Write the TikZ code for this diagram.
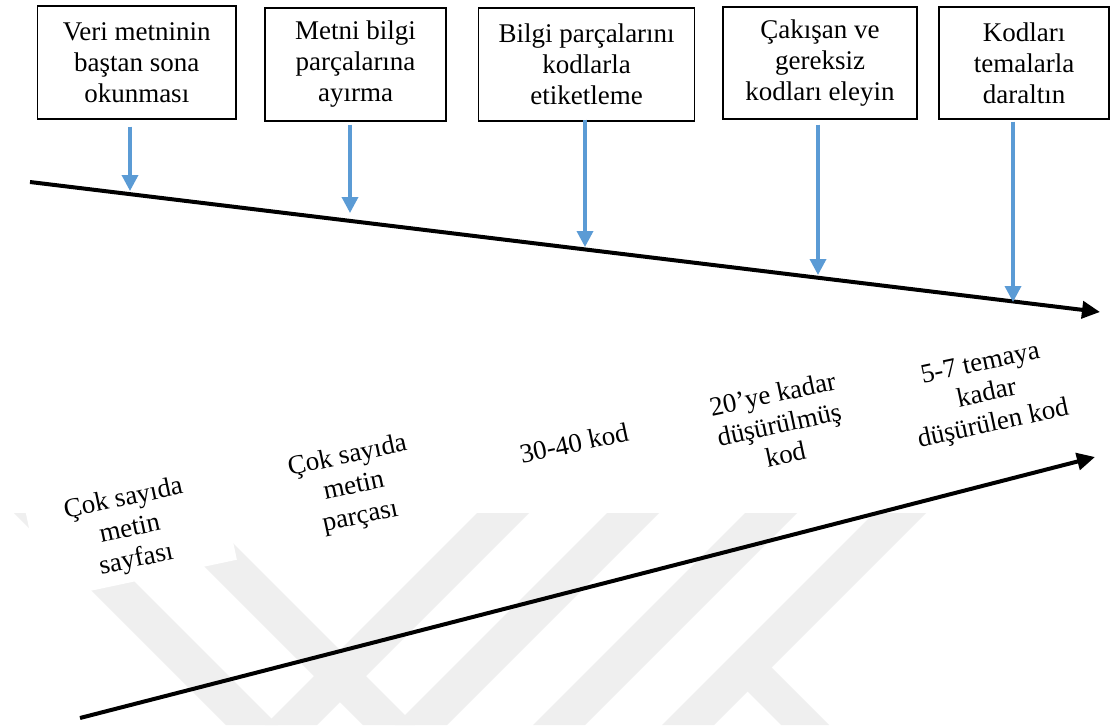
\documentclass[tikz,border=0pt]{standalone}
\usepackage{fontspec}
\setmainfont{Liberation Serif}
\usetikzlibrary{arrows.meta,calc}

\definecolor{stepblue}{HTML}{5B9BD5}
\definecolor{markgray}{HTML}{EFEFEF}

\begin{document}
\begin{tikzpicture}[x=1pt,y=-1pt,
  every node/.style={font=\fontsize{27}{31}\selectfont},
  stagebox/.style={draw=black, line width=1.3pt, align=center, inner sep=0pt},
  stagelabel/.style={align=center, fill=white, rotate=12, inner xsep=38pt, inner ysep=8pt},
  flowline/.style={line width=4pt, -{Triangle[length=18pt,width=17pt]}},
  droparrow/.style={draw=stepblue, line width=3.5pt, -{Triangle[length=16pt,width=16pt]}, color=stepblue},
]
% canvas
\fill[white] (0,0) rectangle (1110,725);
\useasboundingbox (0,0) rectangle (1110,725);

% faint background mark
\begin{scope}
  \clip (0,0) rectangle (1110,725);
  \fill[markgray] (14,513) -- (66,513) -- (278,725) -- (226,725) -- cycle;
  \fill[markgray] (151,513) -- (203,513) -- (415,725) -- (363,725) -- cycle;
  \fill[markgray] (477,513) -- (529,513) -- (317,725) -- (265,725) -- cycle;
  \fill[markgray] (607,513) -- (659,513) -- (447,725) -- (395,725) -- cycle;
  \fill[markgray] (745,513) -- (797,513) -- (585,725) -- (533,725) -- cycle;
  \fill[markgray] (874,513) -- (926,513) -- (714,725) -- (662,725) -- cycle;
  \fill[markgray] (723,667) -- (771,667) -- (829,725) -- (781,725) -- cycle;
\end{scope}

% outcome labels along the rising line
\node[stagelabel] (l1) at (130,530) {Çok sayıda\\metin\\sayfası};
\node[stagelabel] (l2) at (354,487) {Çok sayıda\\metin\\parçası};
\node[stagelabel] (l3) at (574,443) {30-40 kod};
\node[stagelabel] (l4) at (779,424) {20’ye kadar\\düşürülmüş\\kod};
\node[stagelabel] (l5) at (987,395) {5-7 temaya\\kadar\\düşürülen kod};

% process steps
\node[stagebox, minimum width=198.5pt, minimum height=113pt] (b1) at (136.75,62.5) {Veri metninin\\baştan sona\\okunması};
\node[stagebox, minimum width=181pt, minimum height=113pt] (b2) at (355.5,64.5) {Metni bilgi\\parçalarına\\ayırma};
\node[stagebox, minimum width=216pt, minimum height=113pt] (b3) at (586.6,64.5) {Bilgi parçalarını\\kodlarla\\etiketleme};
\node[stagebox, minimum width=194pt, minimum height=112pt] (b4) at (820,63) {Çakışan ve\\gereksiz\\kodları eleyin};
\node[stagebox, minimum width=170pt, minimum height=112pt] (b5) at (1024,63) {Kodları\\temalarla\\daraltın};

% the two timelines
\coordinate (u0) at (30,182);
\coordinate (u1) at (1100,312);
\coordinate (d0) at (80,718);
\coordinate (d1) at (1095,457);
\draw[flowline] (u0) -- (u1);
\draw[flowline] (d0) -- (d1);

% drop points on the falling line
\coordinate (t1) at (130,191);
\coordinate (t2) at (350,213);
\coordinate (t3) at (585,247);
\coordinate (t4) at (818,275);
\coordinate (t5) at (1013,302);
\draw[droparrow] (b1.south -| t1) ++(0,7) -- (t1);
\draw[droparrow] (b2.south -| t2) ++(0,3) -- (t2);
\draw[droparrow] (b3.south -| t3) ++(0,-2) -- (t3);
\draw[droparrow] (b4.south -| t4) ++(0,5) -- (t4);
\draw[droparrow] (b5.south -| t5) ++(0,2) -- (t5);
\end{tikzpicture}
\end{document}
